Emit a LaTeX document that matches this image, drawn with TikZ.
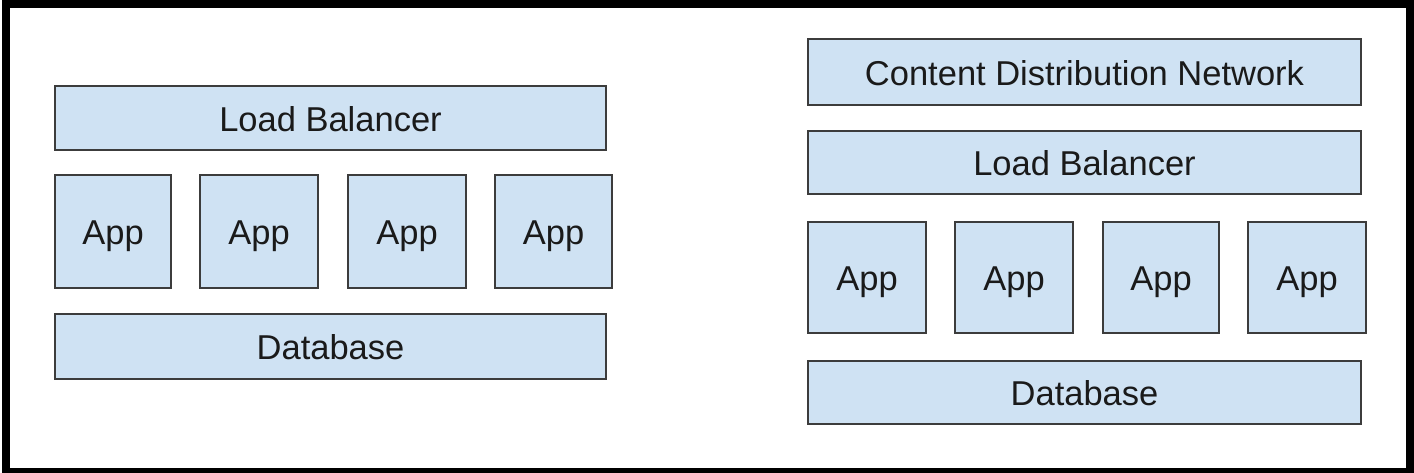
\documentclass[tikz,border=0pt]{standalone}
\usepackage{fontspec}
\setmainfont{Liberation Sans}
\definecolor{boxfill}{HTML}{CFE2F3}
\definecolor{boxline}{HTML}{3C3C3C}
\definecolor{txt}{HTML}{1A1A1A}
\begin{document}
\begin{tikzpicture}[x=1pt,y=-1pt,
  tier/.style={draw=boxline, fill=boxfill, line width=2pt},
  lbl/.style={inner sep=0pt, text=txt, text height=24.7pt, text depth=0pt,
    yshift=-1pt, font=\fontsize{34.5}{40}\selectfont}]
\useasboundingbox (0,0) rectangle (1414,473);
\fill[black] (2,0) rectangle (1414,473);
\fill[white] (10,8) rectangle (1406,468);
% left stack
\path[tier] (55,86) rectangle (606,150) node[midway,lbl] (lb1) {Load Balancer};
\path[tier] (55,175) rectangle (171,288) node[midway,lbl] (a11) {App};
\path[tier] (200,175) rectangle (318,288) node[midway,lbl] (a12) {App};
\path[tier] (348,175) rectangle (466,288) node[midway,lbl] (a13) {App};
\path[tier] (495,175) rectangle (612,288) node[midway,lbl] (a14) {App};
\path[tier] (55,314) rectangle (606,379) node[midway,lbl] (db1) {Database};
% right stack
\path[tier] (808,39) rectangle (1361,105) node[midway,lbl] (cdn) {Content Distribution Network};
\path[tier] (808,131) rectangle (1361,194) node[midway,lbl] (lb2) {Load Balancer};
\path[tier] (808,222) rectangle (926,333) node[midway,lbl] (a21) {App};
\path[tier] (955,222) rectangle (1073,333) node[midway,lbl] (a22) {App};
\path[tier] (1103,222) rectangle (1219,333) node[midway,lbl] (a23) {App};
\path[tier] (1248,222) rectangle (1366,333) node[midway,lbl] (a24) {App};
\path[tier] (808,361) rectangle (1361,424) node[midway,lbl] (db2) {Database};
\end{tikzpicture}
\end{document}
